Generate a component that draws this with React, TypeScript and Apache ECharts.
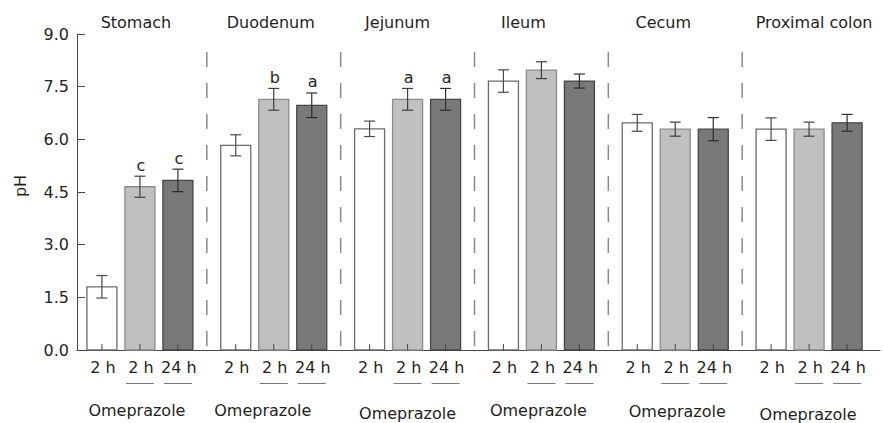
import React, { useEffect, useRef } from 'react';
import * as echarts from 'echarts';

// ---------- data ----------
const segments = ['Stomach', 'Duodenum', 'Jejunum', 'Ileum', 'Cecum', 'Proximal colon'];
const timeLabels = ['2 h', '2 h', '24 h'];
const treatmentLabel = 'Omeprazole';
const yAxisTitle = 'pH';

const controlPH = [1.8, 5.83, 6.3, 7.66, 6.47, 6.29];
const controlErr = [0.32, 0.3, 0.22, 0.32, 0.24, 0.32];
const ome2hPH = [4.65, 7.14, 7.14, 7.97, 6.29, 6.29];
const ome2hErr = [0.3, 0.31, 0.31, 0.24, 0.2, 0.2];
const ome24hPH = [4.83, 6.97, 7.14, 7.66, 6.29, 6.47];
const ome24hErr = [0.32, 0.35, 0.31, 0.2, 0.33, 0.24];
const ome2hSig = ['c', 'b', 'a', '', '', ''];
const ome24hSig = ['c', 'a', 'a', '', '', ''];

const yMin = 0;
const yMax = 9;
const yStep = 1.5;

// ---------- layout / style ----------
const FONT = '16px "DejaVu Sans"';
const TEXT = '#231f20';
const AXIS = '#4a4444';
const BAR_W = 30;
const BAR_STEP = 38;
const SHIFT = -4;
const titleDx = [-4, -3, -10, -18, -12, 5];
const omeDx = [-3, -11, 0, -3, 2, -1];
const omeDy = [0, 0, 3, 0, 1, 4];
const fills = ['#ffffff', '#c0c0c0', '#797979'];
const strokes = ['#6a6a6a', '#8a8a8a', '#464646'];
const errColors = ['#4a4a4a', '#3e3e3e', '#2e2e2e'];

function barSeries(k: number, values: number[], errs: number[], sigs: string[] | null) {
  return {
    type: 'custom',
    name: k === 0 ? 'Control 2 h' : k === 1 ? 'Omeprazole 2 h' : 'Omeprazole 24 h',
    data: values.map((v, i) => [i, v, errs[i]]),
    renderItem: (params: any, api: any) => {
      const i = params.dataIndex;
      const idx = api.value(0);
      const v = api.value(1);
      const e = api.value(2);
      const base = api.coord([idx, 0]);
      const top = api.coord([idx, v]);
      const eTop = api.coord([idx, v + e])[1];
      const eBot = api.coord([idx, v - e])[1];
      const cx = base[0] + (k - 1) * BAR_STEP + SHIFT;
      const children: any[] = [
        {
          type: 'rect',
          shape: { x: cx - BAR_W / 2, y: top[1], width: BAR_W, height: base[1] - top[1] },
          style: { fill: fills[k], stroke: strokes[k], lineWidth: 1.3 },
        },
        {
          type: 'line',
          shape: { x1: cx, y1: eTop, x2: cx, y2: eBot },
          style: { stroke: errColors[k], lineWidth: 1.2 },
        },
        {
          type: 'line',
          shape: { x1: cx - 5.5, y1: eTop, x2: cx + 5.5, y2: eTop },
          style: { stroke: errColors[k], lineWidth: 1.2 },
        },
        {
          type: 'line',
          shape: { x1: cx - 5.5, y1: eBot, x2: cx + 5.5, y2: eBot },
          style: { stroke: errColors[k], lineWidth: 1.2 },
        },
        {
          type: 'line',
          shape: { x1: cx, y1: base[1], x2: cx, y2: base[1] - 6 },
          style: { stroke: AXIS, lineWidth: 1 },
        },
        {
          type: 'text',
          style: {
            text: timeLabels[k],
            x: cx + 1,
            y: base[1] + 17,
            align: 'center',
            verticalAlign: 'middle',
            font: FONT,
            fill: TEXT,
          },
        },
      ];
      if (k > 0) {
        children.push({
          type: 'line',
          shape: { x1: cx - 14, y1: base[1] + 33.5, x2: cx + 14, y2: base[1] + 33.5 },
          style: { stroke: '#7a7a7a', lineWidth: 1 },
        });
      }
      if (sigs && sigs[i]) {
        children.push({
          type: 'text',
          style: {
            text: sigs[i],
            x: cx + 1,
            y: eTop - 11,
            align: 'center',
            verticalAlign: 'middle',
            font: FONT,
            fill: TEXT,
          },
        });
      }
      return { type: 'group', children };
    },
    z: 3,
  };
}

const groupSeries = {
  type: 'custom',
  name: 'segments',
  data: segments.map((_, i) => [i, yMax]),
  renderItem: (params: any, api: any) => {
    const i = params.dataIndex;
    const idx = api.value(0);
    const base = api.coord([idx, yMin]);
    const top = api.coord([idx, yMax]);
    const band = api.size([1, 0])[0];
    const cx = base[0] + SHIFT;
    const children: any[] = [
      {
        type: 'text',
        style: {
          text: segments[i],
          x: cx + titleDx[i],
          y: top[1] - 12,
          align: 'center',
          verticalAlign: 'middle',
          font: FONT,
          fill: TEXT,
        },
      },
      {
        type: 'text',
        style: {
          text: treatmentLabel,
          x: cx + omeDx[i],
          y: base[1] + 60 + omeDy[i],
          align: 'center',
          verticalAlign: 'middle',
          font: FONT,
          fill: TEXT,
        },
      },
    ];
    if (i > 0) {
      const sx = cx - band / 2;
      children.push({
        type: 'line',
        shape: { x1: sx, y1: top[1] + 18, x2: sx, y2: base[1] },
        style: { stroke: '#8a8a8a', lineWidth: 1.5, lineDash: [15, 16] },
      });
    }
    return { type: 'group', children };
  },
  z: 2,
};

export default function App() {
  const ref = useRef<HTMLDivElement>(null);
  useEffect(() => {
    if (!ref.current) return;
    const chart = echarts.init(ref.current, undefined, { renderer: 'svg' });
    chart.setOption({
      animation: false,
      backgroundColor: '#ffffff',
      grid: { left: 77, top: 34, width: 803, bottom: 73, containLabel: false },
      xAxis: {
        type: 'category',
        data: segments,
        axisLine: { show: true, lineStyle: { color: AXIS, width: 1 } },
        axisTick: { show: false },
        axisLabel: { show: false },
        splitLine: { show: false },
      },
      yAxis: {
        type: 'value',
        min: yMin,
        max: yMax,
        interval: yStep,
        axisLine: { show: true, lineStyle: { color: AXIS, width: 1 } },
        axisTick: { show: true, inside: true, length: 8, lineStyle: { color: AXIS, width: 1 } },
        axisLabel: {
          formatter: (v: number) => v.toFixed(1),
          color: TEXT,
          fontFamily: 'DejaVu Sans',
          fontSize: 16,
          margin: 8,
        },
        splitLine: { show: false },
      },
      graphic: [
        {
          type: 'text',
          x: 20,
          y: 186,
          rotation: Math.PI / 2,
          style: {
            text: yAxisTitle,
            align: 'center',
            verticalAlign: 'middle',
            font: FONT,
            fill: TEXT,
          },
        },
      ],
      series: [
        groupSeries,
        barSeries(0, controlPH, controlErr, null),
        barSeries(1, ome2hPH, ome2hErr, ome2hSig),
        barSeries(2, ome24hPH, ome24hErr, ome24hSig),
      ],
    });
    return () => chart.dispose();
  }, []);
  return (
    <div
      ref={ref}
      style={{ position: 'fixed', left: 0, top: 0, width: 884, height: 423, background: '#fff' }}
    />
  );
}
